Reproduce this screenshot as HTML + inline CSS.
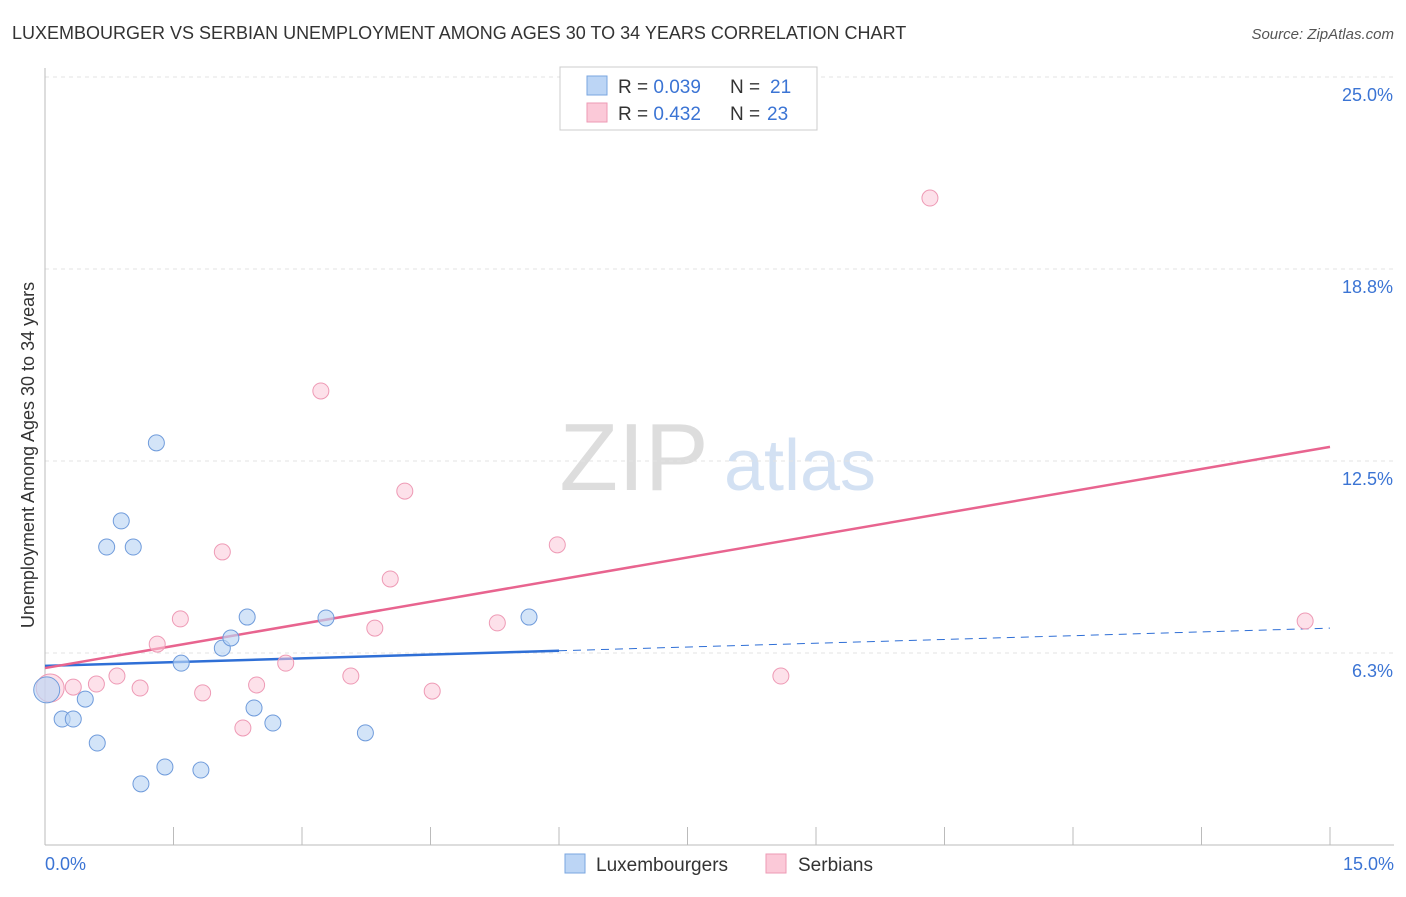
<!DOCTYPE html>
<html><head><meta charset="utf-8"><style>
body{margin:0;background:#fff;font-family:"Liberation Sans",sans-serif;}
svg text{font-family:"Liberation Sans",sans-serif;}
</style></head><body>
<svg id="chart" width="1406" height="892" viewBox="0 0 1406 892">
<text x="12" y="39" font-size="18" fill="#333">LUXEMBOURGER VS SERBIAN UNEMPLOYMENT AMONG AGES 30 TO 34 YEARS CORRELATION CHART</text>
<text x="1394" y="39" font-size="15" fill="#555" font-style="italic" text-anchor="end">Source: ZipAtlas.com</text>
<text x="0" y="0" transform="translate(34,455) rotate(-90)" font-size="18" fill="#333" text-anchor="middle">Unemployment Among Ages 30 to 34 years</text>
<g><text x="634" y="490" font-size="96" fill="#ddd" font-family="Liberation Serif" text-anchor="middle">ZIP</text><text x="800" y="490" font-size="72" fill="#d3e1f3" text-anchor="middle">atlas</text></g>
<g id="grid"></g><g id="axes"></g><g id="lines"></g><g id="points"></g>
<g>
<rect x="560" y="67" width="257" height="63" fill="#fff" stroke="#ccc"/>
<rect x="587" y="76" width="20" height="19" fill="#bcd5f5" stroke="#7aa6e0"/>
<rect x="587" y="103" width="20" height="19" fill="#fbc9d8" stroke="#ee9ab5"/>
<text x="618" y="93" font-size="19" fill="#333">R = <tspan fill="#3b74d4">0.039</tspan><tspan x="730">N = </tspan><tspan x="770" fill="#3b74d4">21</tspan></text>
<text x="618" y="120" font-size="19" fill="#333">R = <tspan fill="#3b74d4">0.432</tspan><tspan x="730">N = </tspan><tspan x="767" fill="#3b74d4">23</tspan></text>
</g>
<g>
<rect x="565" y="854" width="20" height="19" fill="#bcd5f5" stroke="#7aa6e0"/>
<text x="596" y="871" font-size="19" fill="#333">Luxembourgers</text>
<rect x="766" y="854" width="20" height="19" fill="#fbc9d8" stroke="#ee9ab5"/>
<text x="798" y="871" font-size="19" fill="#333">Serbians</text>
</g>
</svg>
<script>
const xTicks=[0,1.5,3,4.5,6,7.5,9,10.5,12,13.5,15];
const yTicks=[6.25,12.5,18.75,25];
const yTickLabels=["6.3%","12.5%","18.8%","25.0%"];
const luxX=[0.02,0.20,0.33,0.47,0.61,0.72,0.89,1.03,1.12,1.30,1.40,1.59,1.82,2.07,2.17,2.36,2.44,2.66,3.28,3.74,5.65];
const luxY=[5.05,4.10,4.10,4.75,3.32,9.70,10.55,9.70,1.99,13.09,2.54,5.92,2.44,6.41,6.74,7.42,4.46,3.97,7.39,3.65,7.42];
const serX=[0.06,0.33,0.60,0.84,1.11,1.31,1.58,1.84,2.07,2.31,2.47,2.81,3.22,3.57,3.85,4.03,4.20,4.52,5.28,5.98,8.59,10.33,14.71];
const serY=[5.11,5.14,5.24,5.50,5.11,6.54,7.36,4.95,9.54,3.81,5.21,5.92,14.78,5.50,7.06,8.66,11.52,5.01,7.23,9.77,5.50,21.06,7.29];
const luxTrend=[5.83,7.06];
const serTrend=[5.76,12.96];
const sx=v=>45+v/15*1285;
const sy=v=>845-v*30.72;
const NS="http://www.w3.org/2000/svg";
function mk(t,a,p){const e=document.createElementNS(NS,t);for(const k in a)e.setAttribute(k,a[k]);p.appendChild(e);return e;}
const grid=document.getElementById('grid'),axes=document.getElementById('axes'),lines=document.getElementById('lines'),pts=document.getElementById('points');
yTicks.forEach((v,i)=>{
const g=mk('line',{x1:45,x2:1394,y1:sy(v),y2:sy(v),stroke:'#e3e3e3','stroke-dasharray':'4,4'},grid);


const t=mk('text',{x:1393,y:sy(v)+24,'font-size':18,fill:'#3b74d4','text-anchor':'end'},axes);
t.textContent=yTickLabels[i];


});
const ax=mk('line',{x1:45,x2:1394,y1:845,y2:845,stroke:'#bbb'},axes);


const ay=mk('line',{x1:45,x2:45,y1:68,y2:845,stroke:'#bbb'},axes);


xTicks.forEach(v=>{
const t=mk('line',{x1:sx(v),x2:sx(v),y1:827,y2:845,stroke:'#bbb'},axes);


});
const xl0=mk('text',{x:45,y:870,'font-size':18,fill:'#3b74d4'},axes);xl0.textContent=xTicks[0].toFixed(1)+'%';


const xl1=mk('text',{x:1394,y:870,'font-size':18,fill:'#3b74d4','text-anchor':'end'},axes);xl1.textContent=xTicks[xTicks.length-1].toFixed(1)+'%';


const lt=v=>luxTrend[0]+(luxTrend[1]-luxTrend[0])*v/15;
const bl=mk('line',{x1:sx(0),y1:sy(lt(0)),x2:sx(6),y2:sy(lt(6)),stroke:'#2f6fd6','stroke-width':2.5},lines);


const bd=mk('line',{x1:sx(6),y1:sy(lt(6)),x2:sx(15),y2:sy(lt(15)),stroke:'#2f6fd6','stroke-width':1,'stroke-dasharray':'8,6'},lines);


const pl=mk('line',{x1:sx(0),y1:sy(serTrend[0]),x2:sx(15),y2:sy(serTrend[1]),stroke:'#e8648f','stroke-width':2.5},lines);


serX.forEach((x,i)=>{
const c=mk('circle',{cx:sx(x),cy:sy(serY[i]),r:i==0?14:8,fill:'rgba(251,201,216,0.55)',stroke:'#ee9ab5','stroke-width':1},pts);


});
luxX.forEach((x,i)=>{
const c=mk('circle',{cx:sx(x),cy:sy(luxY[i]),r:i==0?13:8,fill:'rgba(188,213,245,0.65)',stroke:'#6f9bdb','stroke-width':1},pts);


});
</script>
</body></html>
